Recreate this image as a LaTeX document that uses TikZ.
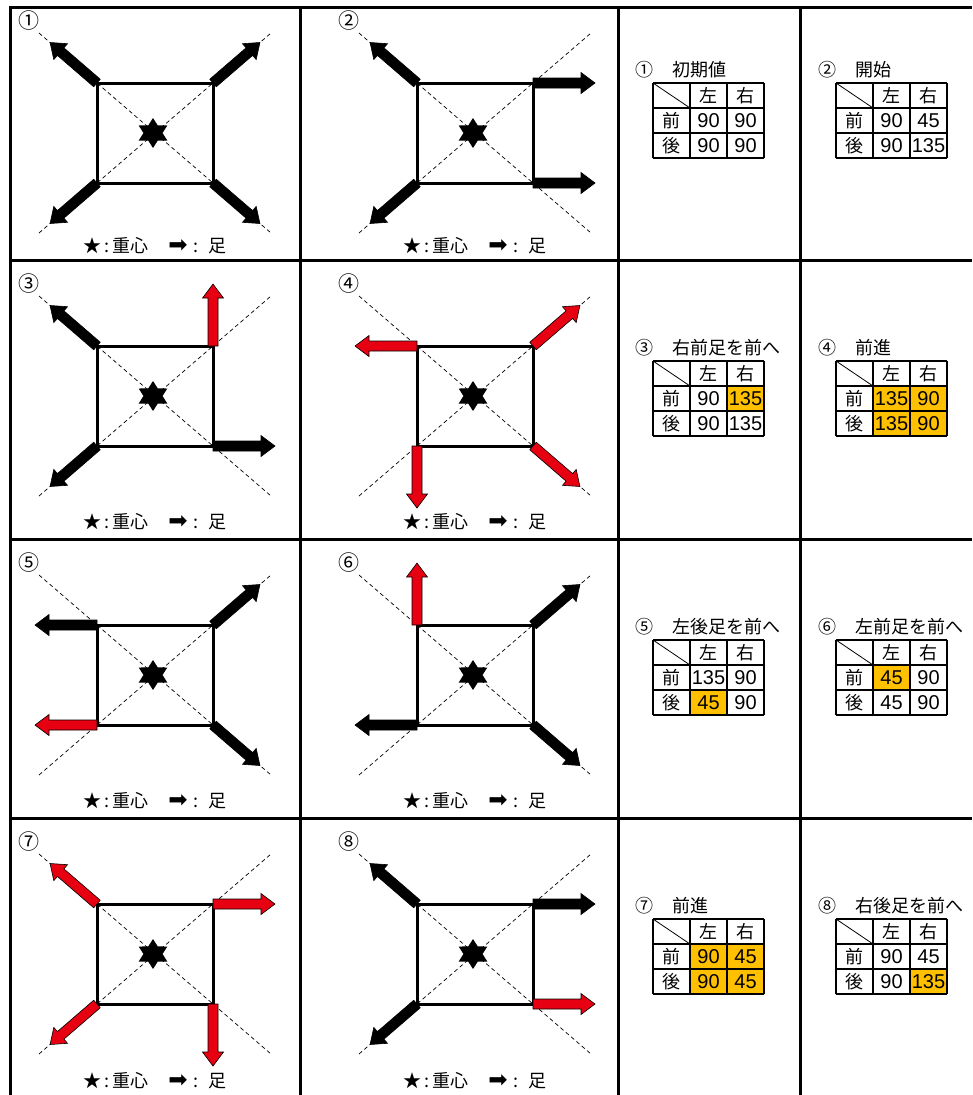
\documentclass[tikz,border=0pt]{standalone}
\usepackage{fontspec}
\setmainfont{Liberation Sans}
\newfontfamily\jp{Noto Sans CJK JP}
\newfontfamily\dv{DejaVu Sans}
\usetikzlibrary{calc}
\definecolor{legred}{RGB}{230,0,18}
\definecolor{hl}{RGB}{255,192,0}

\newcommand{\hd}[1]{{\jp\fontsize{18}{18}\selectfont #1}}

% 机器人：名字, 中心, 编号, 图例位置, 四只脚
\newcommand{\robot}[5]{%
  \begin{scope}[shift={#2}]
    \draw[diag] (-116,-100) -- (116,100);
    \draw[diag] (-116,100) -- (116,-100);
    \draw[body] (-58,-50) rectangle (58,50);
    \foreach \sx/\sy/\ang/\fc in {#5}
      \filldraw[leg,fill=\fc,shift={(\sx,\sy)},rotate=\ang]
        (0,5) -- (48,5) -- (48,10.5) -- (62,0) -- (48,-10.5) -- (48,-5) -- (0,-5) -- cycle;
    \fill[shift={(-2,0)},xscale=1.1] (90:15) -- (60:8.7) -- (30:15) -- (0:8.7) -- (-30:15) -- (-60:8.7)
      -- (-90:15) -- (-120:8.7) -- (-150:15) -- (180:8.7) -- (150:15) -- (120:8.7) -- cycle;
    \node[num] (#1-no) at (-126,-112) {#3};
    \node[lgd] (#1-lgd) at (0,#4) {★\,:\,重心\hspace{20pt}{\dv\fontsize{23}{23}\selectfont ➡}\hspace{6pt}:\hspace{10pt}足};
  \end{scope}}

% 角度表：名字, 左上角, 编号, 标题, 数据
\newcommand{\angtab}[5]{%
  \begin{scope}[shift={#2}]
    \node[ttl] (#1-no) at (-9,-13) {#3};
    \node[ttl,anchor=west] (#1-ttl) at (19,-13) {#4};
    \foreach \ci/\ri/\fc/\vv in {#5}
      \node[tcell,fill=\fc] (#1-\ci\ri) at (37*\ci+18.5,25*\ri+12.5) {\vv};
    \node[tcell] (#1-h1) at (55.5,12.5) {\hd{左}};
    \node[tcell] (#1-h2) at (92.5,12.5) {\hd{右}};
    \node[tcell] (#1-r1) at (18.5,37.5) {\hd{前}};
    \node[tcell] (#1-r2) at (18.5,62.5) {\hd{後}};
    \draw[line width=0.8pt] (0,0) -- (37,25);
    \foreach \i in {0,...,3} {
      \draw[tline] (37*\i,0) -- (37*\i,75);
      \draw[tline] (0,25*\i) -- (111,25*\i);}
  \end{scope}}

\begin{document}
\begin{tikzpicture}[
    x=1pt, y=-1pt,
    frame/.style={line width=3pt},
    body/.style={line width=3pt},
    diag/.style={dash pattern=on 4pt off 3pt, line width=0.7pt},
    leg/.style={draw=black, line width=0.6pt},
    tline/.style={line width=2pt},
    tcell/.style={minimum width=37pt, minimum height=25pt, inner sep=0pt, font=\fontsize{20}{20}\selectfont},
    ttl/.style={inner sep=0pt, font=\jp\fontsize{18}{18}\selectfont},
    num/.style={inner sep=0pt, font=\jp\fontsize{21}{21}\selectfont},
    lgd/.style={inner sep=0pt, font=\jp\fontsize{18}{18}\selectfont}
  ]
  \useasboundingbox (0,0) rectangle (972,1095);

  % 外框
  \draw[frame] (10,1095) -- (10,7) -- (972,7);
  \foreach \x in {300,618,800} \draw[frame] (\x,7) -- (\x,1095);
  \foreach \y in {260,539,818} \draw[frame] (10,\y) -- (972,\y);

  % 步骤 1--8
  \robot{r1}{(155,133)}{①}{113}{-58/-50/139.2/black, 58/-50/40.8/black, -58/50/220.8/black, 58/50/-40.8/black}
  \robot{r2}{(475,133)}{②}{113}{-58/-50/139.2/black, 58/-50/0/black, -58/50/220.8/black, 58/50/0/black}
  \robot{r3}{(155,396)}{③}{126}{-58/-50/139.2/black, 58/-50/90/legred, -58/50/220.8/black, 58/50/0/black}
  \robot{r4}{(475,396)}{④}{126}{-58/-50/180/legred, 58/-50/40.8/legred, -58/50/270/legred, 58/50/-40.8/legred}
  \robot{r5}{(155,675)}{⑤}{126}{-58/-50/180/black, 58/-50/40.8/black, -58/50/180/legred, 58/50/-40.8/black}
  \robot{r6}{(475,675)}{⑥}{126}{-58/-50/90/legred, 58/-50/40.8/black, -58/50/180/black, 58/50/-40.8/black}
  \robot{r7}{(155,954)}{⑦}{127}{-58/-50/139.2/legred, 58/-50/0/legred, -58/50/220.8/legred, 58/50/270/legred}
  \robot{r8}{(475,954)}{⑧}{127}{-58/-50/139.2/black, 58/-50/0/black, -58/50/220.8/black, 58/50/0/legred}

  % 角度表
  \angtab{t1}{(653,83)}{①}{初期値}{1/1/white/90, 2/1/white/90, 1/2/white/90, 2/2/white/90}
  \angtab{t2}{(836,83)}{②}{開始}{1/1/white/90, 2/1/white/45, 1/2/white/90, 2/2/white/135}
  \angtab{t3}{(653,361)}{③}{右前足を前へ}{1/1/white/90, 2/1/hl/135, 1/2/white/90, 2/2/white/135}
  \angtab{t4}{(836,361)}{④}{前進}{1/1/hl/135, 2/1/hl/90, 1/2/hl/135, 2/2/hl/90}
  \angtab{t5}{(653,640)}{⑤}{左後足を前へ}{1/1/white/135, 2/1/white/90, 1/2/hl/45, 2/2/white/90}
  \angtab{t6}{(836,640)}{⑥}{左前足を前へ}{1/1/hl/45, 2/1/white/90, 1/2/white/45, 2/2/white/90}
  \angtab{t7}{(653,919)}{⑦}{前進}{1/1/hl/90, 2/1/hl/45, 1/2/hl/90, 2/2/hl/45}
  \angtab{t8}{(836,919)}{⑧}{右後足を前へ}{1/1/white/90, 2/1/white/45, 1/2/white/90, 2/2/hl/135}
\end{tikzpicture}
\end{document}
